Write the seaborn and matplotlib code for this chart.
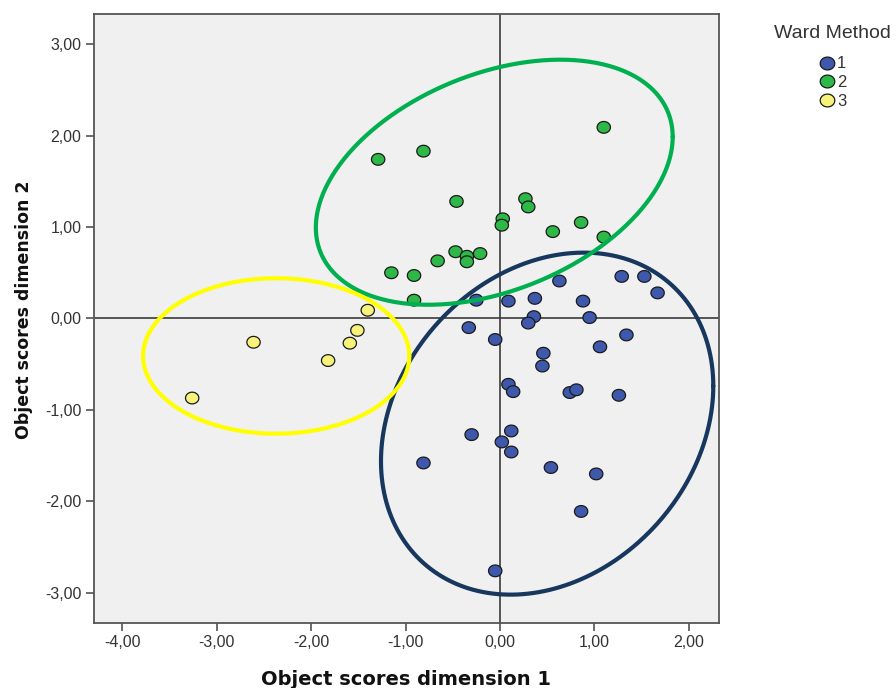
import numpy as np
import pandas as pd
import matplotlib
matplotlib.use('Agg')
import matplotlib.pyplot as plt
from matplotlib.lines import Line2D
from matplotlib.path import Path
from matplotlib.ticker import FuncFormatter, MultipleLocator
import seaborn as sns

# ---------------------------------------------------------------
# data: object scores per Ward cluster
# ---------------------------------------------------------------
blue_x = [0.63, 1.29, 1.53, 1.67, -0.25, 0.09, 0.37, 0.88, 0.36, 0.30, 0.95,
          -0.33, 1.34, -0.05, 1.06, 0.46, 0.45, 0.09, 0.14, 0.74, 0.81, 1.26,
          -0.30, 0.12, 0.02, 0.12, -0.81, 0.54, 1.02, 0.86, -0.05]
blue_y = [0.41, 0.46, 0.46, 0.28, 0.20, 0.19, 0.22, 0.19, 0.02, -0.05, 0.01,
          -0.10, -0.18, -0.23, -0.31, -0.38, -0.52, -0.72, -0.80, -0.81, -0.78, -0.84,
          -1.27, -1.23, -1.35, -1.46, -1.58, -1.63, -1.70, -2.11, -2.76]

green_x = [1.10, -1.29, -0.81, -0.46, 0.27, 0.30, 0.03, 0.02, 0.56, 0.86,
           1.10, -0.47, -0.35, -0.35, -0.21, -0.66, -1.15, -0.91, -0.91]
green_y = [2.09, 1.74, 1.83, 1.28, 1.31, 1.22, 1.09, 1.02, 0.95, 1.05,
           0.89, 0.73, 0.68, 0.62, 0.71, 0.63, 0.50, 0.47, 0.20]

yellow_x = [-1.40, -1.51, -1.59, -1.82, -2.61, -3.26]
yellow_y = [0.09, -0.13, -0.27, -0.46, -0.26, -0.87]

clusters = ['1', '2', '3']
point_colors = ['#3E58AC', '#2EB848', '#F6F27A']

# hand-drawn cluster ellipses: centre, half extents, tilt (phase cosine)
ell_cx = [0.50, -0.06, -2.37]
ell_cy = [-1.15, 1.49, -0.41]
ell_rx = [1.76, 1.89, 1.41]
ell_ry = [1.87, 1.34, 0.85]
ell_tilt = [0.22, 0.37, 0.0]
ell_colors = ['#17375E', '#00B050', '#FFFF00']

df = pd.DataFrame({
    'dim1': blue_x + green_x + yellow_x,
    'dim2': blue_y + green_y + yellow_y,
    'cluster': ['1'] * len(blue_x) + ['2'] * len(green_x) + ['3'] * len(yellow_x),
})

# slightly flattened circle, like the SPSS markers
ang = np.linspace(0, 2 * np.pi, 60)
oval = Path(np.column_stack([np.cos(ang), 0.88 * np.sin(ang)]), closed=True)

# ---------------------------------------------------------------
# plot
# ---------------------------------------------------------------
sns.set_style('white')
plt.rcParams['font.family'] = ['Liberation Sans', 'DejaVu Sans']

fig = plt.figure(figsize=(8.96, 6.88), dpi=100)
ax = fig.add_axes([0.1049, 0.0945, 0.6975, 0.8852])
ax.set_facecolor('#F0F0F0')

ax.axhline(0, color='#3a3a3a', lw=1.2, zorder=1)
ax.axvline(0, color='#3a3a3a', lw=1.2, zorder=1)

sns.scatterplot(data=df, x='dim1', y='dim2', hue='cluster', hue_order=clusters,
                palette=point_colors, marker=oval, s=92, edgecolor='#1a1a1a',
                linewidth=0.9, legend=False, ax=ax, zorder=3)

t = np.linspace(0, 2 * np.pi, 400)
for cx, cy, rx, ry, c, col in zip(ell_cx, ell_cy, ell_rx, ell_ry, ell_tilt, ell_colors):
    phi = np.arccos(c)
    ax.plot(cx + rx * np.cos(t), cy + ry * np.cos(t - phi), color=col, lw=3.0, zorder=4)

ax.set_xlim(-4.3, 2.32)
ax.set_ylim(-3.33, 3.33)
ax.xaxis.set_major_locator(MultipleLocator(1))
ax.yaxis.set_major_locator(MultipleLocator(1))
fmt = FuncFormatter(lambda v, p: f'{v:.2f}'.replace('.', ','))
ax.xaxis.set_major_formatter(fmt)
ax.yaxis.set_major_formatter(fmt)
ax.tick_params(axis='both', direction='out', length=6, width=1.1, color='#444444',
               labelsize=11.5, labelcolor='#333333', bottom=True, left=True, pad=3)

for sp in ax.spines.values():
    sp.set_color('#555555')
    sp.set_linewidth(1.3)

ax.set_xlabel('Object scores dimension 1', fontsize=14, fontweight='bold',
              family=['DejaVu Sans'], color='#111111')
ax.xaxis.set_label_coords(0.5, -0.078)
ax.set_ylabel('Object scores dimension 2', fontsize=12.5, fontweight='bold',
              family=['DejaVu Sans'], color='#111111')
ax.yaxis.set_label_coords(-0.098, 0.514)

# legend: title as its own text so the gap to the entries can match
fig.text(832 / 896, 1 - 34 / 688, 'Ward Method', ha='center', va='center',
         fontsize=14, color='#333333')
handles = [Line2D([], [], marker=oval, ls='', markersize=10.5, markerfacecolor=c,
                  markeredgecolor='#1a1a1a', markeredgewidth=0.9) for c in point_colors]
leg = fig.legend(handles, clusters, loc='upper center',
                 bbox_to_anchor=(832 / 896, 1 - 48 / 688), frameon=False,
                 fontsize=12, handletextpad=0.05, labelspacing=0.22,
                 borderpad=0, handlelength=1.1)
for txt in leg.get_texts():
    txt.set_color('#333333')

fig.savefig('out.png', dpi=100)
